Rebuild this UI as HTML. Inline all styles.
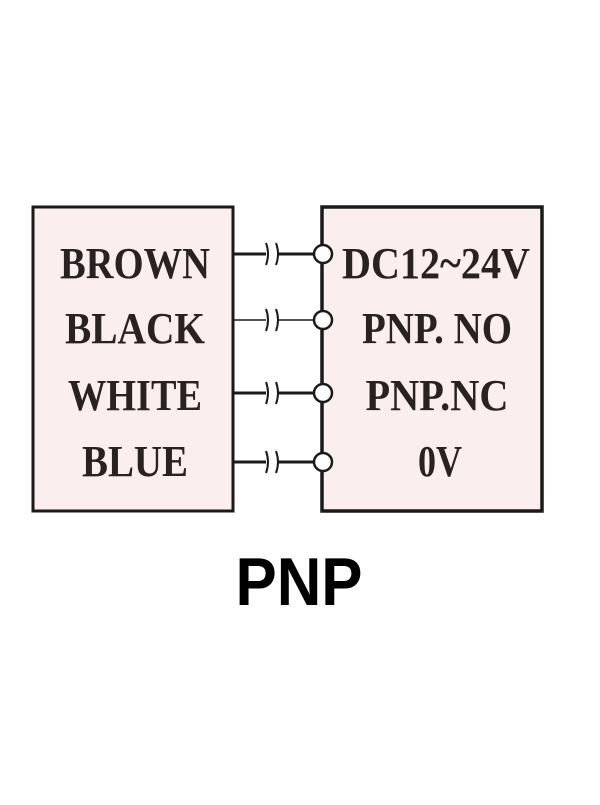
<!DOCTYPE html>
<html><head><style>
body{margin:0;background:#fff;}
svg text{font-family:"Liberation Serif",serif;font-weight:bold;fill:#2a2222;}
</style></head><body>
<svg width="600" height="800" xmlns="http://www.w3.org/2000/svg">
<rect x="33" y="207" width="200" height="304" fill="#fbeeee" stroke="#1a1a1a" stroke-width="3"/>
<rect x="322" y="207" width="220" height="304" fill="#fbeeee" stroke="#1a1a1a" stroke-width="3.5"/>
<g stroke="#1a1a1a" fill="none">
<line x1="233" y1="254" x2="266" y2="254" stroke-width="3"/>
<line x1="278" y1="254" x2="316" y2="254" stroke-width="3"/>
<line x1="233" y1="320" x2="266" y2="320" stroke-width="1.5"/>
<line x1="278" y1="320" x2="316" y2="320" stroke-width="1.5"/>
<line x1="233" y1="393" x2="266" y2="393" stroke-width="3"/>
<line x1="278" y1="393" x2="316" y2="393" stroke-width="3"/>
<line x1="233" y1="462" x2="266" y2="462" stroke-width="3"/>
<line x1="278" y1="462" x2="316" y2="462" stroke-width="3"/>
<g stroke-width="2">
<path d="M266 243 q4 11 0 22 M276 243 q4 11 0 22"/>
<path d="M266 309 q4 11 0 22 M276 309 q4 11 0 22"/>
<path d="M266 382 q4 11 0 22 M276 382 q4 11 0 22"/>
<path d="M266 451 q4 11 0 22 M276 451 q4 11 0 22"/>
</g>
<g stroke-width="2.5" fill="#fff">
<circle cx="323" cy="254" r="9"/>
<circle cx="323" cy="320" r="9"/>
<circle cx="323" cy="393" r="9"/>
<circle cx="323" cy="462" r="9"/>
</g>
</g>
<g font-size="44">
<text x="135" y="278" text-anchor="middle" textLength="150" lengthAdjust="spacingAndGlyphs">BROWN</text>
<text x="135" y="343" text-anchor="middle" textLength="140" lengthAdjust="spacingAndGlyphs">BLACK</text>
<text x="135" y="410" text-anchor="middle" textLength="134" lengthAdjust="spacingAndGlyphs">WHITE</text>
<text x="135" y="476" text-anchor="middle" textLength="106" lengthAdjust="spacingAndGlyphs">BLUE</text>
<text x="436" y="278" text-anchor="middle" textLength="188" lengthAdjust="spacingAndGlyphs">DC12~24V</text>
<text x="437" y="343" text-anchor="middle" textLength="150" lengthAdjust="spacingAndGlyphs">PNP. NO</text>
<text x="437" y="410" text-anchor="middle" textLength="143" lengthAdjust="spacingAndGlyphs">PNP.NC</text>
<text x="440" y="476" text-anchor="middle" textLength="44" lengthAdjust="spacingAndGlyphs">0V</text>
</g>
<text x="299" y="605" text-anchor="middle" font-size="68" textLength="127" lengthAdjust="spacingAndGlyphs" style="font-family:'Liberation Sans',sans-serif;font-weight:bold;fill:#000">PNP</text>
</svg>
</body></html>
